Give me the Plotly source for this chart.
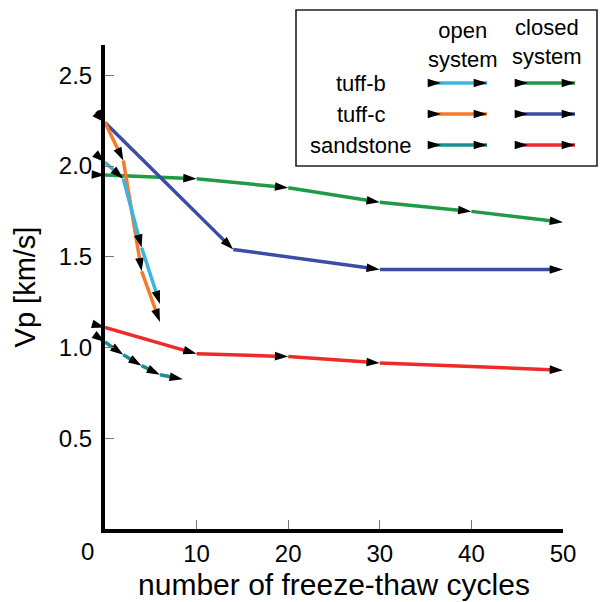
import plotly.graph_objects as go

# P-wave velocity (km/s) against number of freeze-thaw cycles
tuff_b_open_cycles = [0, 2, 4, 6]
tuff_b_open_vp = [2.02, 1.93, 1.55, 1.24]
tuff_c_open_cycles = [0, 2, 4, 6]
tuff_c_open_vp = [2.24, 2.03, 1.42, 1.14]
sandstone_open_cycles = [0, 2, 4, 6, 8.5]
sandstone_open_vp = [1.03, 0.96, 0.90, 0.85, 0.825]

tuff_b_closed_cycles = [0, 10, 20, 30, 40, 50]
tuff_b_closed_vp = [1.95, 1.93, 1.88, 1.80, 1.75, 1.69]
tuff_c_closed_cycles = [0, 14, 30, 50]
tuff_c_closed_vp = [2.24, 1.54, 1.43, 1.43]
sandstone_closed_cycles = [0, 10, 20, 30, 50]
sandstone_closed_vp = [1.11, 0.965, 0.95, 0.915, 0.875]

x_ticks = [10, 20, 30, 40, 50]
y_ticks = [0.5, 1.0, 1.5, 2.0, 2.5]
y_tick_labels = ["0.5", "1.0", "1.5", "2.0", "2.5"]
rock_labels = ["tuff-b", "tuff-c", "sandstone"]
system_labels = ["open<br>system", "closed<br>system"]

FONT = "Liberation Sans, Arial, sans-serif"
COLORS_OPEN = ["#3BB5DE", "#F47A2C", "#17918F"]
COLORS_CLOSED = ["#1F9A45", "#3A4CA6", "#EE2A2A"]
ARROW = 14
LINE_W = 3.5

W, H = 600, 602
ML, MR, MT, MB = 105, 0, 0, 73
plot_w = W - ML - MR
plot_h = H - MT - MB
X_END_PX = 563   # right end of the x axis
Y_TOP_PX = 45    # top of the y axis
PX_PER_KMS = 181.5

fig = go.Figure()


def add_path(x, y, color):
    n = len(x)
    # line with an arrowhead at every point after the first
    fig.add_trace(go.Scatter(
        x=x, y=y, mode="lines+markers",
        line=dict(color=color, width=LINE_W),
        marker=dict(symbol="arrow", size=[0] + [ARROW] * (n - 1), opacity=1,
                    color="black", angleref="previous", line=dict(width=0)),
        showlegend=False, hoverinfo="skip", cliponaxis=False))
    # tail mark at the starting point, aimed along the first segment
    fig.add_trace(go.Scatter(
        x=x[1::-1], y=y[1::-1], mode="markers",
        marker=dict(symbol="arrow", size=[0, ARROW], color="black", opacity=1,
                    angle=180, angleref="previous", line=dict(width=0)),
        showlegend=False, hoverinfo="skip", cliponaxis=False))


add_path(tuff_b_closed_cycles, tuff_b_closed_vp, COLORS_CLOSED[0])
add_path(tuff_c_closed_cycles, tuff_c_closed_vp, COLORS_CLOSED[1])
add_path(sandstone_closed_cycles, sandstone_closed_vp, COLORS_CLOSED[2])
add_path(tuff_c_open_cycles, tuff_c_open_vp, COLORS_OPEN[1])
add_path(tuff_b_open_cycles, tuff_b_open_vp, COLORS_OPEN[0])
add_path(sandstone_open_cycles, sandstone_open_vp, COLORS_OPEN[2])

# key panel, laid out on an overlay axis pair measured in figure pixels
box = dict(x0=296, x1=597, y0=10, y1=166)
row_y = [83, 114, 145]
col_open = (430, 441, 487)
col_closed = (517, 528, 575)
for i, ry in enumerate(row_y):
    for cols, colors in ((col_open, COLORS_OPEN), (col_closed, COLORS_CLOSED)):
        fig.add_trace(go.Scatter(
            x=list(cols), y=[ry] * 3, xaxis="x2", yaxis="y2",
            mode="lines+markers",
            line=dict(color=colors[i], width=LINE_W),
            marker=dict(symbol="arrow", size=[0, ARROW, ARROW], opacity=1,
                        color="black", angle=90, line=dict(width=0)),
            showlegend=False, hoverinfo="skip", cliponaxis=False))

fig.add_shape(type="rect", xref="x2", yref="y2", **box,
              line=dict(color="#222", width=1.6), fillcolor="rgba(0,0,0,0)")


def paper_xy(px, py):
    return (px - ML) / plot_w, (H - MB - py) / plot_h


annotations = []
for lbl, ry in zip(rock_labels, row_y):
    annotations.append(dict(xref="x2", yref="y2", x=361, y=ry, text=lbl,
                            showarrow=False, xanchor="center", yanchor="middle",
                            font=dict(size=22, family=FONT, color="black")))
for lbl, cx, cy in zip(system_labels, [463, 547], [45, 42]):
    annotations.append(dict(xref="x2", yref="y2", x=cx, y=cy, text=lbl,
                            showarrow=False, xanchor="center", yanchor="middle",
                            font=dict(size=22, family=FONT, color="black")))
# origin label of the x axis, set off to the left of the corner
zx, zy = paper_xy(87, 551)
annotations.append(dict(xref="paper", yref="paper", x=zx, y=zy, text="0",
                        showarrow=False, xanchor="center", yanchor="middle",
                        font=dict(size=24, family=FONT, color="black")))

axis_common = dict(
    showline=True, linewidth=4, linecolor="black",
    ticks="inside", ticklen=9, tickwidth=1, tickcolor="#777",
    showgrid=False, zeroline=False,
    tickfont=dict(size=24, family=FONT, color="black"),
)

fig.update_layout(
    width=W, height=H,
    margin=dict(l=ML, r=MR, t=MT, b=MB, pad=0, autoexpand=False),
    paper_bgcolor="white", plot_bgcolor="rgba(0,0,0,0)",
    showlegend=False,
    xaxis=dict(axis_common, range=[0, 50], tickvals=x_ticks,
               domain=[0, (X_END_PX - ML) / plot_w], anchor="y",
               automargin=False,
               title=dict(text="number of freeze-thaw cycles",
                          font=dict(size=30, family=FONT, color="black"),
                          standoff=9)),
    yaxis=dict(axis_common, range=[0, (H - MB - Y_TOP_PX) / PX_PER_KMS],
               tickvals=y_ticks, ticktext=y_tick_labels,
               domain=[0, (H - MB - Y_TOP_PX) / plot_h], anchor="x",
               automargin=False, ticklabelstandoff=4,
               title=dict(text="Vp [km/s]",
                          font=dict(size=29, family=FONT, color="black"),
                          standoff=16)),
    xaxis2=dict(domain=[0, 1], range=[ML, W - MR], visible=False,
                anchor="y2", fixedrange=True),
    yaxis2=dict(domain=[0, 1], range=[H - MB, MT], visible=False,
                anchor="x2", fixedrange=True),
    annotations=annotations,
)

fig.write_html("out.html")
